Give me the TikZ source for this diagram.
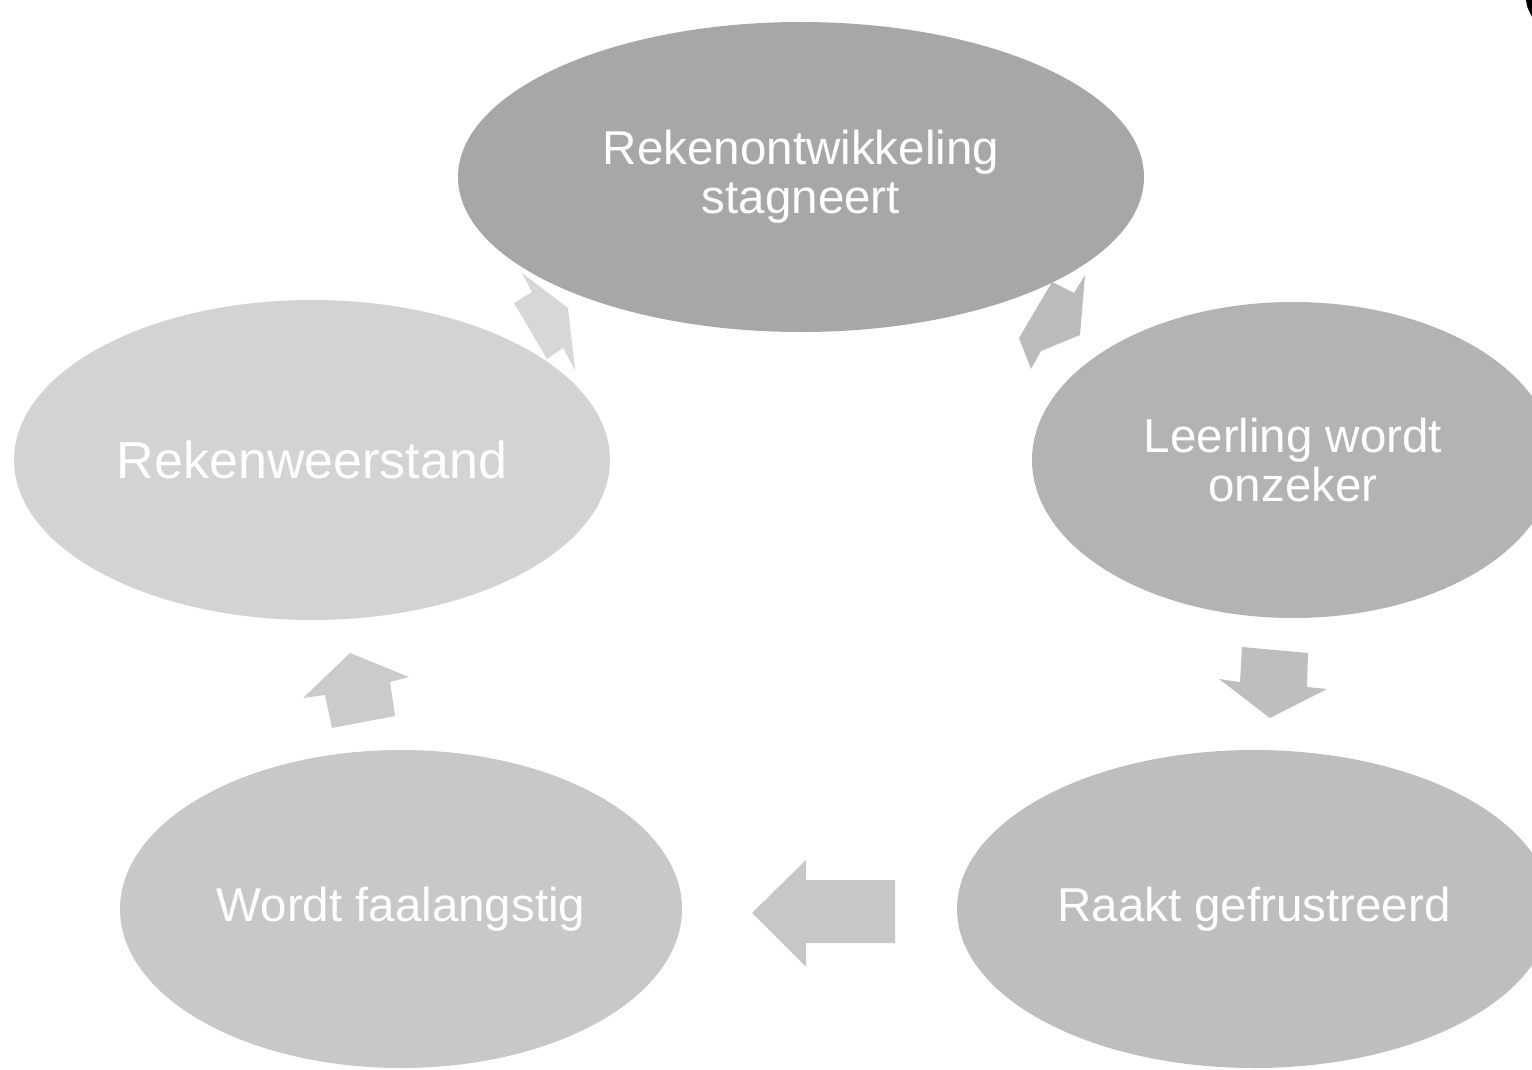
\documentclass[tikz,border=0pt]{standalone}
\usepackage{fontspec}
\setmainfont{Liberation Sans}
\usetikzlibrary{shapes.geometric}
\definecolor{grA}{HTML}{A7A6A9}
\definecolor{grB}{HTML}{B3B2B5}
\definecolor{grC}{HTML}{BEBDC0}
\definecolor{grD}{HTML}{C8C7CA}
\definecolor{grE}{HTML}{D3D2D5}
\begin{document}
\begin{tikzpicture}[x=1pt,y=-1pt,
	stap/.style={ellipse,inner sep=0pt,text=white,align=center,
		font=\fontsize{47.5}{49}\selectfont},
	pijl/.style={draw=none}]
	\useasboundingbox (0,0) rectangle (1532,1070);
	\clip (0,0) rectangle (1532,1070);
	% kringloop
	\node[stap,fill=grA,minimum width=686,minimum height=310] (reken) at (801,177) {Rekenontwikkeling\\stagneert};
	\node[stap,fill=grB,minimum width=522,minimum height=316] (onzeker) at (1293,460) {Leerling wordt\\onzeker};
	\node[stap,fill=grC,minimum width=594,minimum height=318] (gefrust) at (1254,909) {Raakt gefrustreerd};
	\node[stap,fill=grD,minimum width=562,minimum height=318] (faal) at (401,909) {Wordt faalangstig};
	\node[stap,fill=grE,minimum width=596,minimum height=320,font=\fontsize{52}{54}\selectfont] (weerstand) at (312,460) {Rekenweerstand};
	% pijlen
	\fill[pijl,fill=grB!90!white] (1052,282) -- (1074,293) -- (1085,275) -- (1080,335) -- (1041,351) -- (1031,369) -- (1019,338) -- cycle;
	\fill[pijl,fill=grC] (1242,647) -- (1308,653) -- (1307,687) -- (1327,689) -- (1270,718) -- (1219,679) -- (1240,682) -- cycle;
	\fill[pijl,fill=grD!92!grC] (752,913) -- (806,860) -- (806,880) -- (895,880) -- (895,943) -- (806,943) -- (806,967) -- cycle;
	\fill[pijl,fill=grD!70!grE] (350,653) -- (409,677) -- (390,682) -- (395,716) -- (332,728) -- (325,695) -- (303,698) -- cycle;
	\fill[pijl,fill=grE!90!white] (522,273) -- (568,308) -- (575,370) -- (563,348) -- (547,359) -- (514,303) -- (532,292) -- cycle;
	%\draw (weerstand) -- (reken);
	\fill[black] (1526,0) .. controls (1527,7) .. (1532,17) -- (1532,0) -- cycle;
\end{tikzpicture}
\end{document}
